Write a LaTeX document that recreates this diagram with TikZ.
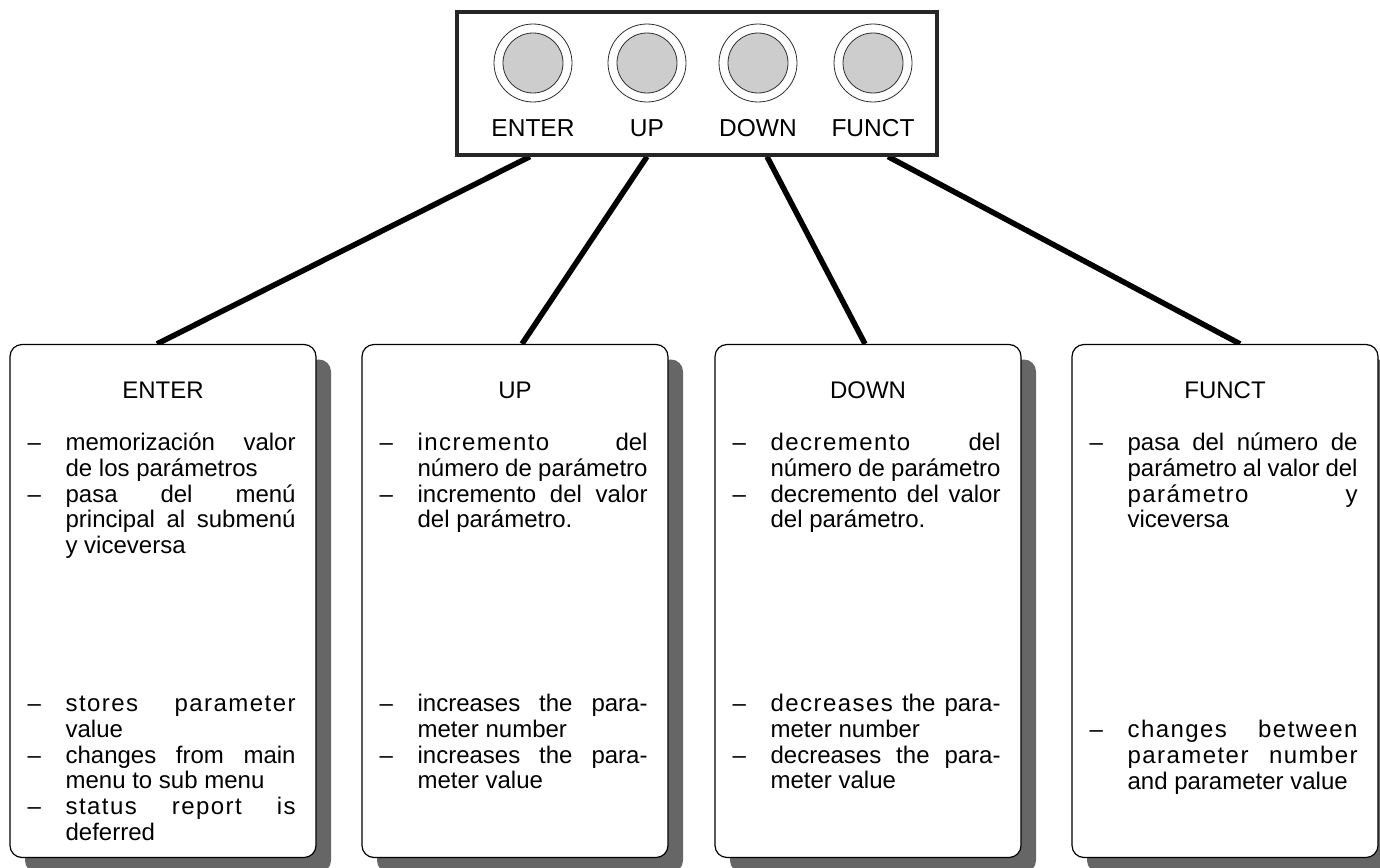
\documentclass[tikz,border=0pt]{standalone}
\usepackage{fontspec}
\setmainfont{Liberation Sans}
\usetikzlibrary{positioning,calc,shadows,backgrounds}

\definecolor{shadowgrey}{HTML}{666666}
\definecolor{capgrey}{HTML}{CDCDCD}
\definecolor{rimgrey}{HTML}{2E2E2E}

% one dash item with hanging indent
\newcommand{\dashitem}{\par\noindent\hangindent=38pt\hangafter=1\makebox[38pt][l]{–}}
\newcommand{\firstline}{\rule{0pt}{23pt}}
\newcommand{\spread}[1]{{\addfontfeature{LetterSpace=6}#1}}

\begin{document}
\begin{tikzpicture}[
		x=1pt,y=-1pt,
		keypad/.style={
			rectangle,
			draw=black!85,
			line width=3.2pt,
			minimum width=480pt,
			minimum height=143pt
		},
		keyring/.style={
			circle,
			draw=rimgrey,
			line width=0.8pt,
			fill=white,
			minimum size=78pt
		},
		keycap/.style={
			circle,
			draw=rimgrey,
			line width=0.8pt,
			fill=capgrey,
			minimum size=60pt
		},
		keylabel/.style={
			inner sep=0pt,
			font=\fontsize{24.5}{28}\selectfont
		},
		infobox/.style={
			rectangle,
			draw,
			fill=white,
			line width=1.2pt,
			rounded corners=12pt,
			minimum width=306pt,
			minimum height=513pt,
			drop shadow={shadow xshift=15pt,shadow yshift=-15pt,fill=shadowgrey,opacity=1}
		},
		boxtitle/.style={
			inner sep=0pt,
			font=\fontsize{24}{28}\selectfont
		},
		itemlist/.style={
			inner sep=0pt,
			text width=268pt,
			align=justify,
			font=\fontsize{24}{25.7}\selectfont
		},
		link/.style={
			line width=5.5pt
		}
		]
		
		\useasboundingbox (0,0) rectangle (1380,867);
		
		% keypad with the four keys
		\node[keypad] (keypad) at (697,83.5) {};
		
		\node[keyring] (enterkey) at (533,63) {};
		\node[keycap] (entercap) at (enterkey) {};
		\node[keylabel, below=17pt of enterkey] (enterlabel) {ENTER};
		
		\node[keyring] (upkey) at (647,63) {};
		\node[keycap] (upcap) at (upkey) {};
		\node[keylabel, below=17pt of upkey] (uplabel) {UP};
		
		\node[keyring] (downkey) at (758,63) {};
		\node[keycap] (downcap) at (downkey) {};
		\node[keylabel, below=17pt of downkey] (downlabel) {DOWN};
		
		\node[keyring] (functkey) at (873,63) {};
		\node[keycap] (functcap) at (functkey) {};
		\node[keylabel, below=17pt of functkey] (functlabel) {FUNCT};
		
		% description boxes
		\node[infobox] (enterbox) at (163,601) {};
		\node[infobox] (upbox) at (515,601) {};
		\node[infobox] (downbox) at (868,601) {};
		\node[infobox] (functbox) at (1225,601) {};
		
		\node[boxtitle, below=38pt of enterbox.north] (entertitle) {ENTER};
		\node[boxtitle, below=38pt of upbox.north] (uptitle) {UP};
		\node[boxtitle, below=38pt of downbox.north] (downtitle) {DOWN};
		\node[boxtitle, below=38pt of functbox.north] (functtitle) {FUNCT};
		
		\node[itemlist, below right=81pt and 18pt of enterbox.north west] (enteres)
		{\dashitem\firstline memorización valor\linebreak de los parámetros
			\dashitem pasa del menú\linebreak principal al submenú\linebreak y viceversa\par};
		\node[itemlist, below right=342pt and 18pt of enterbox.north west] (enteren)
		{\dashitem\firstline \spread{stores parameter}\linebreak value
			\dashitem changes from main\linebreak menu to sub menu
			\dashitem \spread{status report is}\linebreak deferred\par};
		
		\node[itemlist, below right=81pt and 18pt of upbox.north west] (upes)
		{\dashitem\firstline \spread{incremento} del\linebreak número de parámetro
			\dashitem incremento del valor\linebreak del parámetro.\par};
		\node[itemlist, below right=342pt and 18pt of upbox.north west] (upen)
		{\dashitem\firstline increases the para-\linebreak meter number
			\dashitem increases the para-\linebreak meter value\par};
		
		\node[itemlist, below right=81pt and 18pt of downbox.north west] (downes)
		{\dashitem\firstline \spread{decremento} del\linebreak número de parámetro
			\dashitem decremento del valor\linebreak del parámetro.\par};
		\node[itemlist, below right=342pt and 18pt of downbox.north west] (downen)
		{\dashitem\firstline \spread{decreases} the para-\linebreak meter number
			\dashitem decreases the para-\linebreak meter value\par};
		
		\node[itemlist, below right=81pt and 18pt of functbox.north west] (functes)
		{\dashitem\firstline pasa del número de\linebreak parámetro al valor del\linebreak \spread{parámetro} y\linebreak viceversa\par};
		\node[itemlist, below right=368pt and 18pt of functbox.north west] (functen)
		{\dashitem\firstline \spread{changes between}\linebreak \spread{parameter number}\linebreak and parameter value\par};
		
		% keys to boxes
		\begin{scope}[on background layer]
			\draw[link] ($(keypad.south -| enterkey)+(-3,0)$) -- ($(enterbox.north)+(-6,0)$);
			\draw[link] (keypad.south -| upkey) -- ($(upbox.north)+(7,0)$);
			\draw[link] ($(keypad.south -| downkey)+(9,0)$) -- ($(downbox.north)+(-3,0)$);
			\draw[link] ($(keypad.south -| functkey)+(15,0)$) -- ($(functbox.north)+(15,0)$);
		\end{scope}
		
	\end{tikzpicture}
\end{document}
